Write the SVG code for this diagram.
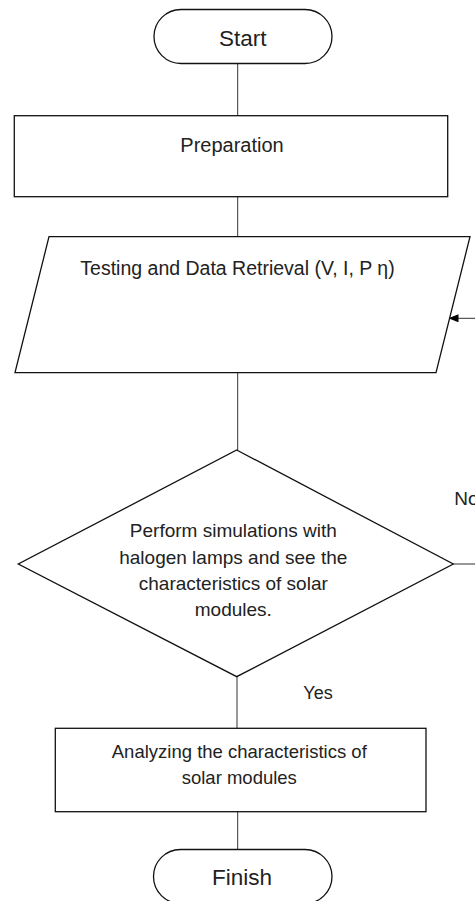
<svg xmlns="http://www.w3.org/2000/svg" width="475" height="901" viewBox="0 0 475 901">
<style>
.shape{fill:#fff;stroke:#111;stroke-width:1.3}
.conn{fill:none;stroke:#333;stroke-width:1}
text{font-family:"Liberation Sans",Arial,sans-serif;fill:#222;text-anchor:middle}
.t{font-size:19px}
.big{font-size:22.5px}
</style>
<defs>
<marker id="arr" viewBox="0 0 10 8" refX="10" refY="4" markerWidth="10" markerHeight="8" markerUnits="userSpaceOnUse" orient="auto">
<path d="M0,0 L10,4 L0,8 z" fill="#000"/>
</marker>
</defs>
<rect width="475" height="901" fill="#fff"/>
<g id="connectors">
<line class="conn" x1="237.7" y1="63.5" x2="237.7" y2="115.7"/>
<line class="conn" x1="237.7" y1="196.7" x2="237.7" y2="236.7"/>
<line class="conn" x1="237.7" y1="372.7" x2="237.7" y2="450"/>
<line class="conn" x1="237" y1="676.7" x2="237" y2="728.3"/>
<line class="conn" x1="237.7" y1="811.7" x2="237.7" y2="849.5"/>
<path class="conn" d="M453.3,564 H490 V318.3 H448.5" marker-end="url(#arr)"/>
<text class="t" x="454.3" y="505" style="text-anchor:start">No</text>
<text class="t" x="318" y="699.3" style="font-size:18px">Yes</text>
</g>
<g id="start">
<rect class="shape" x="154" y="9.5" width="178" height="54" rx="27"/>
<text class="big" x="242.7" y="45.5">Start</text>
</g>
<g id="preparation">
<rect class="shape" x="14.3" y="115.7" width="433.4" height="81"/>
<text class="t" x="232" y="151.7" style="font-size:20px">Preparation</text>
</g>
<g id="testing">
<polygon class="shape" points="49,236.7 470,236.7 436,372.7 15,372.7"/>
<text class="t" x="237.5" y="275" style="font-size:19.5px">Testing and Data Retrieval (V, I, P η)</text>
</g>
<g id="decision">
<polygon class="shape" points="236.7,450 453.3,564 236.7,676.7 18.3,564"/>
<text class="t" x="233.3" y="537.3">Perform simulations with</text>
<text class="t" x="233.3" y="564">halogen lamps and see the</text>
<text class="t" x="233.3" y="590">characteristics of solar</text>
<text class="t" x="233.3" y="616">modules.</text>
</g>
<g id="analyzing">
<rect class="shape" x="55.3" y="728.3" width="370.7" height="83.4"/>
<text class="t" x="239.3" y="758.3" style="font-size:18.5px">Analyzing the characteristics of</text>
<text class="t" x="239.3" y="784.3" style="font-size:18.5px">solar modules</text>
</g>
<g id="finish">
<rect class="shape" x="153.5" y="849.5" width="178.5" height="54" rx="27"/>
<text class="big" x="242" y="885">Finish</text>
</g>
</svg>
